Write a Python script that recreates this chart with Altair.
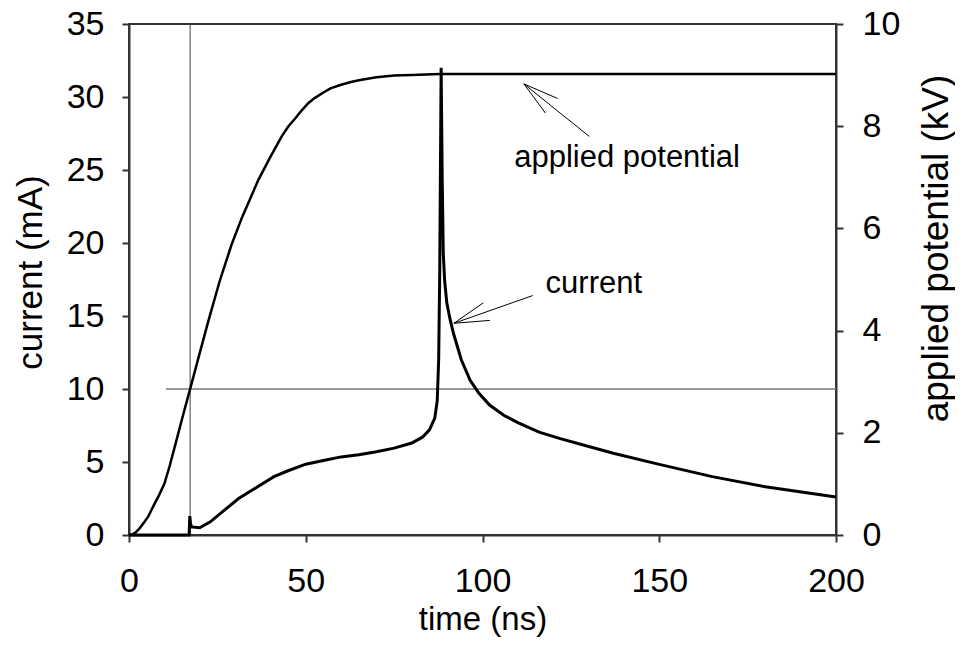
import altair as alt
import pandas as pd

# ---- data ----
t_pot = [0, 1, 2, 3, 4.5, 5.5, 7, 8.5, 10, 11.5, 13.5, 15, 17.3, 20, 22.5, 25.7, 29,
         32, 36.6, 40, 43.2, 45, 47, 48.5, 50.7, 52.5, 55, 57, 60, 62.5, 65, 70, 75,
         80, 88, 200]
kv = [0, 0.015, 0.06, 0.13, 0.27, 0.37, 0.58, 0.78, 1.0, 1.35, 1.87, 2.27, 2.86,
      3.56, 4.2, 4.98, 5.68, 6.22, 6.95, 7.4, 7.8, 7.99, 8.15, 8.28, 8.45, 8.55,
      8.66, 8.74, 8.81, 8.86, 8.9, 8.96, 8.99, 9.0, 9.02, 9.02]

t_cur = [0, 17.0, 17.2, 17.4, 17.7, 20, 23, 27, 31, 35, 41, 45, 50, 55, 60, 65, 70,
         75, 80, 83, 85, 86.5, 87.2, 87.6, 87.9, 88.1, 88.3, 88.6, 88.9, 89.3, 89.9,
         90.8, 91.8, 94, 96.5, 99, 102, 106, 110, 116, 122, 128, 137, 150, 165, 180, 200]
ma = [0, 0, 1.3, 0.8, 0.55, 0.5, 0.9, 1.7, 2.5, 3.1, 4.0, 4.4, 4.85, 5.1, 5.35, 5.5,
      5.7, 5.95, 6.3, 6.7, 7.2, 8.0, 9.2, 12.0, 18.0, 25.0, 32.0, 24.5, 19.3, 17.4,
      15.9, 14.8, 13.8, 12.0, 10.6, 9.7, 8.9, 8.2, 7.7, 7.05, 6.6, 6.2, 5.6, 4.84,
      4.0, 3.3, 2.6]

x_ticks = [0, 50, 100, 150, 200]
cur_ticks = [0, 5, 10, 15, 20, 25, 30, 35]
kv_ticks = [0, 2, 4, 6, 8, 10]

vref_t = [17.3]
href_t0 = [10.4]
href_t1 = [200]
href_c = [10]

# annotation arrows (time, current) segments
seg_t = [111.7, 111.7, 111.7, 91.9, 91.9, 91.9]
seg_t2 = [130.2, 121.2, 117.8, 114.2, 100.2, 102.1]
seg_c = [30.9, 30.9, 30.9, 14.5, 14.5, 14.5]
seg_c2 = [27.3, 29.9, 28.9, 16.4, 15.9, 14.7]

ann_text = ["applied potential", "current"]
ann_t = [140.9, 131.5]
ann_c = [25.2, 16.6]

FONT = "Liberation Sans"

df_pot = pd.DataFrame({"t": t_pot, "kv": kv})
df_cur = pd.DataFrame({"t": t_cur, "c": ma})
df_v = pd.DataFrame({"t": vref_t})
df_h = pd.DataFrame({"t": href_t0, "t2": href_t1, "c": href_c})
df_seg = pd.DataFrame({"t": seg_t, "t2": seg_t2, "c": seg_c, "c2": seg_c2})
df_txt = pd.DataFrame({"t": ann_t, "c": ann_c, "label": ann_text})

xscale = alt.Scale(domain=[0, 200], nice=False, zero=False)
ycscale = alt.Scale(domain=[0, 35], nice=False)
ykscale = alt.Scale(domain=[0, 10], nice=False)

xaxis = alt.Axis(values=x_ticks, title="time (ns)", labelPadding=22, labelFlush=False,
                 labelOverlap=False, titleY=68, titleBaseline="top", titleFontSize=33)
ycaxis = alt.Axis(values=cur_ticks, title="current (mA)", labelPadding=18,
                  labelFlush=False, labelOverlap=False, titleAngle=270,
                  titleBaseline="bottom", titleX=-81, titleY=248, titleFontSize=35)
ykaxis = alt.Axis(values=kv_ticks, title="applied potential (kV)", orient="right",
                  labelPadding=19, labelFlush=False, labelOverlap=False,
                  titleAngle=270, titleBaseline="bottom", titleX=119, titleY=224,
                  titleFontSize=37)

X = alt.X("t:Q", scale=xscale, axis=xaxis)
YC = alt.Y("c:Q", scale=ycscale, axis=ycaxis)

cur_line = alt.Chart(df_cur).mark_line(color="black", strokeWidth=3).encode(
    x=X, y=YC, order="t:Q")
vrule = alt.Chart(df_v).mark_rule(color="#444", strokeWidth=1).encode(x=X)
hrule = alt.Chart(df_h).mark_rule(color="#777", strokeWidth=1.6).encode(
    x=X, x2="t2:Q", y=YC)
arrows = alt.Chart(df_seg).mark_rule(color="black", strokeWidth=1).encode(
    x=X, x2="t2:Q", y=YC, y2="c2:Q")
texts = alt.Chart(df_txt).mark_text(font=FONT, fontSize=31, baseline="alphabetic",
                                    align="center", color="black").encode(
    x=X, y=YC, text="label:N")

left = alt.layer(vrule, hrule, cur_line, arrows, texts)

pot_line = alt.Chart(df_pot).mark_line(color="black", strokeWidth=2.5).encode(
    x=X, y=alt.Y("kv:Q", scale=ykscale, axis=ykaxis), order="t:Q")

chart = alt.layer(left, pot_line).resolve_scale(y="independent").properties(
    width=707, height=511,
    autosize=alt.AutoSizeParams(type="none"),
    padding={"left": 121, "top": 16, "right": 119, "bottom": 105},
).configure_view(stroke="#333", strokeWidth=2).configure_axis(
    grid=False, domainColor="#333", domainWidth=2, tickColor="#333", tickWidth=2,
    tickSize=7, labelFont=FONT, titleFont=FONT, labelFontSize=34, titleFontSize=32,
    labelColor="black", titleColor="black", titleFontWeight="normal")

chart.save("out.html", embed_options={"renderer": "svg", "actions": False})
